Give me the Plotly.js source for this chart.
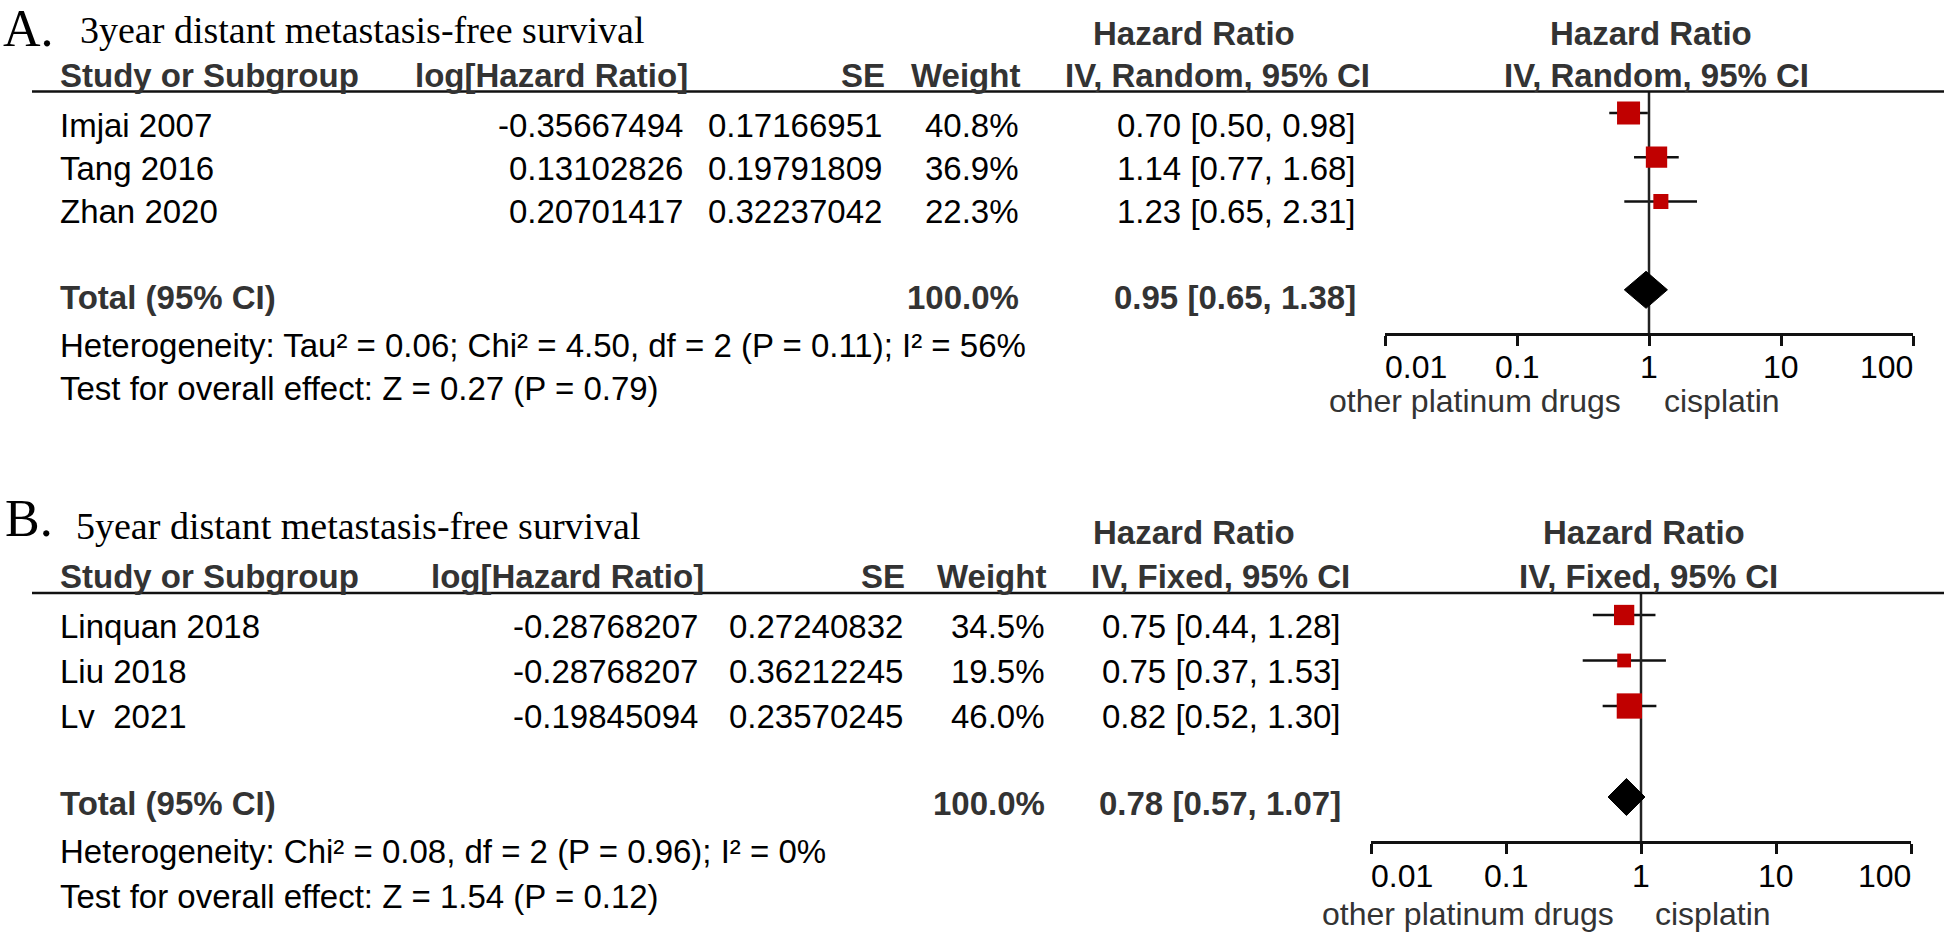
<!DOCTYPE html>
<html>
<head>
<meta charset="utf-8">
<script src="https://cdn.plot.ly/plotly-3.0.1.min.js"></script>
<style>
  html, body { margin: 0; padding: 0; background: #fff; }
  #forest { width: 1944px; height: 938px; }
</style>
</head>
<body>
<div id="forest"></div>
<script>
// ---- data, panel A (3 year) ----
let studiesA = ['Imjai 2007', 'Tang 2016', 'Zhan 2020'];
let logHrA = [-0.35667494, 0.13102826, 0.20701417];
let seA = [0.17166951, 0.19791809, 0.32237042];
let weightA = [40.8, 36.9, 22.3];
let hrA = [0.70, 1.14, 1.23];
let loA = [0.50, 0.77, 0.65];
let hiA = [0.98, 1.68, 2.31];
let totalA = [0.95, 0.65, 1.38];
let methodA = 'IV, Random, 95% CI';
let titleA = '3year distant metastasis-free survival';
let hetA = 'Heterogeneity: Tau² = 0.06; Chi² = 4.50, df = 2 (P = 0.11); I² = 56%';
let testA = 'Test for overall effect: Z = 0.27 (P = 0.79)';

// ---- data, panel B (5 year) ----
let studiesB = ['Linquan 2018', 'Liu 2018', 'Lv\u00a0\u00a02021'];
let logHrB = [-0.28768207, -0.28768207, -0.19845094];
let seB = [0.27240832, 0.36212245, 0.23570245];
let weightB = [34.5, 19.5, 46.0];
let hrB = [0.75, 0.75, 0.82];
let loB = [0.44, 0.37, 0.52];
let hiB = [1.28, 1.53, 1.30];
let totalB = [0.78, 0.57, 1.07];
let methodB = 'IV, Fixed, 95% CI';
let titleB = '5year distant metastasis-free survival';
let hetB = 'Heterogeneity: Chi² = 0.08, df = 2 (P = 0.96); I² = 0%';
let testB = 'Test for overall effect: Z = 1.54 (P = 0.12)';

let tickVals = [0.01, 0.1, 1, 10, 100];
let tickText = ['0.01', '0.1', '1', '10', '100'];
let favourLeft = 'other platinum drugs';
let favourRight = 'cisplatin';

// ---- page geometry (pixels) ----
const W = 1944, H = 938;
const SANS = 'Liberation Sans, Arial, sans-serif';
const SERIF = 'Liberation Serif, Times New Roman, serif';
const HEAD = '#333333';
const FS = 33;

let geoA = {
  letter: 'A.', letterX: 3, letterBase: 46.5, titleX: 80, titleBase: 43,
  hrHeadBase: 45, headBase: 87, lineY: 91.5,
  rowBase: [137, 180, 223], totalBase: 309, hetBase: 357, testBase: 400,
  colLog: 683, colLogHead: 688, colSE: 882, colSEHead: 885, colW: 1019, colWHead: 1020,
  colHR: 1356, hrHeadLeft: 1093, ivHeadLeft: 1065, plotHeadCx: 1651, plotIvCx: 1656,
  rowY0: 113, rowStep: 44.2, axisY: 333, x001: 1385, x100: 1913,
  tickBase: 378, favBase: 412, favGapL: 28, favGapR: 15
};
let geoB = {
  letter: 'B.', letterX: 5, letterBase: 537, titleX: 76, titleBase: 539,
  hrHeadBase: 544, headBase: 588, lineY: 593,
  rowBase: [638, 683, 728], totalBase: 815, hetBase: 863, testBase: 908,
  colLog: 698, colLogHead: 704, colSE: 903, colSEHead: 905, colW: 1045, colWHead: 1046,
  colHR: 1341, hrHeadLeft: 1093, ivHeadLeft: 1091, plotHeadCx: 1644, plotIvCx: 1648,
  rowY0: 615, rowStep: 45.5, axisY: 841, x001: 1371, x100: 1911,
  tickBase: 887, favBase: 925, favGapL: 27, favGapR: 14
};

// text annotation placed by its baseline in pixels
function txt(text, x, base, o) {
  o = o || {};
  let fs = o.size || FS;
  return {
    xref: 'paper', yref: 'paper',
    x: x / W, y: 1 - (base - 0.347 * fs) / H,
    xanchor: o.anchor || 'left', yanchor: 'middle',
    text: o.bold ? '<b>' + text + '</b>' : text,
    showarrow: false, borderpad: 0, borderwidth: 0,
    font: { family: o.family || SANS, size: fs, color: o.color || '#000' }
  };
}

function ciText(hr, lo, hi) {
  return hr.toFixed(2) + ' [' + lo.toFixed(2) + ', ' + hi.toFixed(2) + ']';
}

function squareSize(w) {
  return 5.4 + 0.432 * w;
}

let traces = [];
let annotations = [];
let shapes = [];
let layout = {};

function addPanel(g, k, d) {
  let xa = k === 1 ? 'x' : 'x' + k;
  let ya = k === 1 ? 'y' : 'y' + k;
  let yTop = (g.lineY - g.rowY0) / g.rowStep;
  let yBot = (g.axisY - g.rowY0) / g.rowStep;
  let totalRow = d.studies.length + 1;

  // titles and headers
  annotations.push(txt(g.letter, g.letterX, g.letterBase, { family: SERIF, size: 52 }));
  annotations.push(txt(d.title, g.titleX, g.titleBase, { family: SERIF, size: 38 }));
  annotations.push(txt('Hazard Ratio', g.hrHeadLeft, g.hrHeadBase, { bold: true, color: HEAD }));
  annotations.push(txt('Hazard Ratio', g.plotHeadCx, g.hrHeadBase, { bold: true, color: HEAD, anchor: 'center' }));
  annotations.push(txt('Study or Subgroup', 60, g.headBase, { bold: true, color: HEAD }));
  annotations.push(txt('log[Hazard Ratio]', g.colLogHead, g.headBase, { bold: true, color: HEAD, anchor: 'right' }));
  annotations.push(txt('SE', g.colSEHead, g.headBase, { bold: true, color: HEAD, anchor: 'right' }));
  annotations.push(txt('Weight', g.colWHead, g.headBase, { bold: true, color: HEAD, anchor: 'right' }));
  annotations.push(txt(d.method, g.ivHeadLeft, g.headBase, { bold: true, color: HEAD }));
  annotations.push(txt(d.method, g.plotIvCx, g.headBase, { bold: true, color: HEAD, anchor: 'center' }));

  shapes.push({
    type: 'line', xref: 'paper', yref: 'paper',
    x0: 32 / W, x1: 1, y0: 1 - g.lineY / H, y1: 1 - g.lineY / H,
    line: { color: '#111', width: 2.5 }
  });

  // study rows
  d.studies.forEach((s, i) => {
    let b = g.rowBase[i];
    annotations.push(txt(s, 60, b));
    annotations.push(txt(d.logHr[i].toFixed(8), g.colLog, b, { anchor: 'right' }));
    annotations.push(txt(d.se[i].toFixed(8), g.colSE, b, { anchor: 'right' }));
    annotations.push(txt(d.weight[i].toFixed(1) + '%', g.colW, b, { anchor: 'right' }));
    annotations.push(txt(ciText(d.hr[i], d.lo[i], d.hi[i]), g.colHR, b, { anchor: 'right' }));

    traces.push({
      x: [d.lo[i], d.hi[i]], y: [i, i], xaxis: xa, yaxis: ya,
      type: 'scatter', mode: 'lines', line: { color: '#111', width: 2.5 }
    });
  });

  annotations.push(txt('Total (95% CI)', 60, g.totalBase, { bold: true, color: HEAD }));
  annotations.push(txt('100.0%', g.colW, g.totalBase, { bold: true, color: HEAD, anchor: 'right' }));
  annotations.push(txt(ciText(d.total[0], d.total[1], d.total[2]), g.colHR, g.totalBase, { bold: true, color: HEAD, anchor: 'right' }));
  annotations.push(txt(d.het, 60, g.hetBase));
  annotations.push(txt(d.test, 60, g.testBase));

  // line of no effect
  traces.push({
    x: [1, 1], y: [yTop, yBot], xaxis: xa, yaxis: ya,
    type: 'scatter', mode: 'lines', line: { color: '#222', width: 2.5 }
  });

  // study squares
  traces.push({
    x: d.hr, y: d.studies.map((s, i) => i), xaxis: xa, yaxis: ya,
    type: 'scatter', mode: 'markers',
    marker: { symbol: 'square', size: d.weight.map(squareSize), color: '#c00000', opacity: 1, line: { width: 0 } }
  });

  // pooled diamond
  let hh = 18.5 / g.rowStep;
  traces.push({
    x: [d.total[1], d.total[0], d.total[2], d.total[0], d.total[1]],
    y: [totalRow, totalRow - hh, totalRow, totalRow + hh, totalRow],
    xaxis: xa, yaxis: ya, type: 'scatter', mode: 'lines', fill: 'toself',
    fillcolor: '#000', line: { color: '#000', width: 1 }
  });

  // tick labels and favour labels
  tickVals.forEach((v, j) => {
    let anchor = j === 0 ? 'left' : (j === tickVals.length - 1 ? 'right' : 'center');
    let a = txt(tickText[j], 0, g.tickBase, { anchor: anchor, size: 32 });
    a.xref = xa;
    a.x = Math.log10(v);
    annotations.push(a);
  });
  let fl = txt(favourLeft, 0, g.favBase, { anchor: 'right', color: HEAD, size: 32 });
  fl.xref = xa; fl.x = 0; fl.xshift = -g.favGapL;
  annotations.push(fl);
  let fr = txt(favourRight, 0, g.favBase, { anchor: 'left', color: HEAD, size: 32 });
  fr.xref = xa; fr.x = 0; fr.xshift = g.favGapR;
  annotations.push(fr);

  // axes
  let dom = [g.x001 / W, g.x100 / W];
  let baseAxis = {
    type: 'log', range: [-2, 2], tickvals: tickVals, showticklabels: false,
    showgrid: false, zeroline: false, ticklen: 10, tickwidth: 3, tickcolor: '#111',
    fixedrange: true
  };
  layout[k === 1 ? 'xaxis' : 'xaxis' + k] = Object.assign({}, baseAxis, {
    domain: dom, anchor: ya, showline: true, linewidth: 3, linecolor: '#111', ticks: 'outside'
  });
  let ok = k + 2;
  layout['xaxis' + ok] = Object.assign({}, baseAxis, {
    overlaying: xa, anchor: ya, showline: false, ticks: 'inside'
  });
  layout[k === 1 ? 'yaxis' : 'yaxis' + k] = {
    domain: [1 - g.axisY / H, 1 - g.lineY / H], range: [yBot, yTop],
    visible: false, fixedrange: true
  };
}

addPanel(geoA, 1, {
  studies: studiesA, logHr: logHrA, se: seA, weight: weightA, hr: hrA, lo: loA, hi: hiA,
  total: totalA, method: methodA, title: titleA, het: hetA, test: testA
});
addPanel(geoB, 2, {
  studies: studiesB, logHr: logHrB, se: seB, weight: weightB, hr: hrB, lo: loB, hi: hiB,
  total: totalB, method: methodB, title: titleB, het: hetB, test: testB
});

Object.assign(layout, {
  width: W, height: H,
  margin: { l: 0, r: 0, t: 0, b: 0 },
  paper_bgcolor: '#fff', plot_bgcolor: 'rgba(0,0,0,0)',
  showlegend: false, hovermode: false,
  annotations: annotations, shapes: shapes
});

Plotly.newPlot('forest', traces, layout, { staticPlot: true });
</script>
</body>
</html>
